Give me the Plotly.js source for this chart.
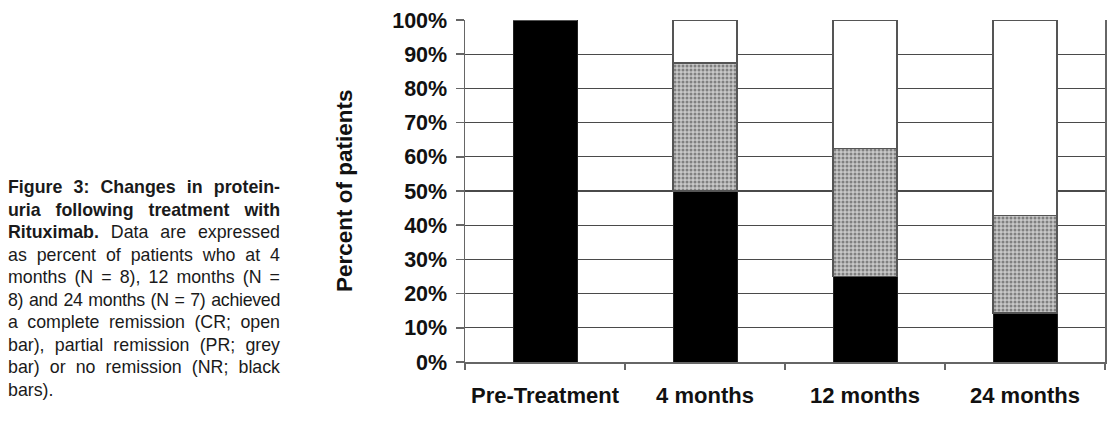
<!DOCTYPE html>
<html>
<head>
<meta charset="utf-8">
<script src="https://cdn.plot.ly/plotly-3.0.1.min.js"></script>
<style>
  html, body { margin:0; padding:0; background:#fff; }
  #wrap { position:relative; width:1120px; height:428px; overflow:hidden; }
  #chart { position:absolute; left:0; top:0; width:1120px; height:428px; }
  #caption { position:absolute; left:8px; top:176px; width:272px;
    font-family:"Liberation Sans", Arial, sans-serif; font-size:17.8px; line-height:22.5px; color:#1a1a1a; }
  #caption span { display:block; text-align:justify; text-align-last:justify; white-space:nowrap; }
  #caption span.last { text-align-last:left; }
</style>
</head>
<body>
<div id="wrap">
  <div id="chart"></div>
  <div id="caption">
    <span><b>Figure 3: Changes in protein-</b></span>
    <span><b>uria following treatment with</b></span>
    <span><b>Rituximab.</b> Data are expressed</span>
    <span>as percent of patients who at 4</span>
    <span>months (N = 8), 12 months (N =</span>
    <span style="letter-spacing:-0.3px">8) and 24 months (N = 7) achieved</span>
    <span>a complete remission (CR; open</span>
    <span>bar), partial remission (PR; grey</span>
    <span>bar) or no remission (NR; black</span>
    <span class="last">bars).</span>
  </div>
</div>
<script>
const categories = ["Pre-Treatment", "4 months", "12 months", "24 months"];
const noRemission = [100, 50, 25, 14.3];
const partialRemission = [0, 37.5, 37.5, 28.6];
const completeRemission = [0, 12.5, 37.5, 57.1];
const yTickValues = [0, 10, 20, 30, 40, 50, 60, 70, 80, 90, 100];
const yTickLabels = ["0%", "10%", "20%", "30%", "40%", "50%", "60%", "70%", "80%", "90%", "100%"];

const outline = { color: "#555", width: 1.5 };
const traces = [
  { type: "bar", name: "NR", x: categories, y: noRemission,
    marker: { color: "#000", line: { color: "#222", width: 1 } }, hoverinfo: "skip" },
  { type: "bar", name: "PR", x: categories, y: partialRemission,
    marker: { color: "#b0b0b0", line: outline,
      pattern: { shape: ".", bgcolor: "#c8c8c8", fgcolor: "#808080", size: 4, solidity: 0.45 } },
    hoverinfo: "skip" },
  { type: "bar", name: "CR", x: categories, y: completeRemission,
    marker: { color: "#fff", line: outline }, hoverinfo: "skip" }
];

const font = { family: "Liberation Sans, Arial, sans-serif", color: "#111" };
const layout = {
  width: 1120, height: 428,
  margin: { l: 465, r: 15, t: 20, b: 66 },
  paper_bgcolor: "#fff", plot_bgcolor: "#fff",
  barmode: "stack", bargap: 0.6,
  showlegend: false,
  font: font,
  xaxis: {
    type: "category", tickson: "boundaries", ticks: "outside", ticklen: 6, tickcolor: "#666", tickwidth: 1.5,
    showline: true, linecolor: "#666", linewidth: 1.5, showgrid: false,
    tickangle: 0, automargin: false,
    tickfont: { family: font.family, size: 22, color: "#111", weight: "bold" },
    ticklabelstandoff: 13
  },
  yaxis: {
    range: [0, 100], tickvals: yTickValues, ticktext: yTickLabels,
    ticks: "outside", ticklen: 8, tickcolor: "#666", tickwidth: 1.5,
    showline: true, mirror: true, linecolor: "#666", linewidth: 1.5,
    showgrid: true, gridcolor: "#4a4a4a", gridwidth: 1.3, zeroline: false,
    automargin: false,
    tickfont: { family: font.family, size: 21.5, color: "#111", weight: "bold" },
    ticklabelstandoff: 4
  },
  annotations: [{
    text: "<b>Percent of patients</b>", xref: "paper", yref: "paper",
    x: (344 - 465) / 640, y: 0.5, xanchor: "center", yanchor: "middle",
    textangle: -90, showarrow: false,
    font: { family: font.family, size: 22.5, color: "#111" }
  }]
};
Plotly.newPlot("chart", traces, layout, { staticPlot: true, displayModeBar: false });
</script>
</body>
</html>
